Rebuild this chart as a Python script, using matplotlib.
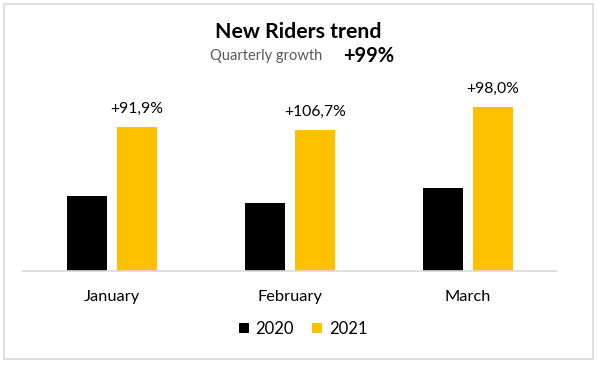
import matplotlib
matplotlib.use("Agg")
import matplotlib.pyplot as plt
from matplotlib.patches import Rectangle
import numpy as np

plt.rcParams['font.family'] = ['Lato', 'DejaVu Sans']

months = ["January", "February", "March"]
series_names = ["2020", "2021"]
values_2020 = [75, 68, 83]
values_2021 = [144, 141, 164]
growth_labels = ["+91,9%", "+106,7%", "+98,0%"]
title = "New Riders trend"
subtitle = "Quarterly growth"
total_growth = "+99%"

W, H = 597, 366
fig = plt.figure(figsize=(W / 100, H / 100), dpi=100)

# border around whole chart
fig.patches.append(Rectangle((4 / W, 1 - 359 / H), 589 / W, 355 / H,
                             transform=fig.transFigure, fill=False,
                             edgecolor="#D9D9D9", linewidth=1.2))

ax_left, ax_right = 23, 557
ax_bottom, ax_top = 271, 80
ax = fig.add_axes([ax_left / W, 1 - ax_bottom / H, (ax_right - ax_left) / W,
                   (ax_bottom - ax_top) / H])

x = np.arange(len(months))
bw = 0.223
off = 0.141
ax.bar(x - off, values_2020, bw, color="#000000", label=series_names[0])
ax.bar(x + off, values_2021, bw, color="#FFC000", label=series_names[1])

for xi, v, lab in zip(x, values_2021, growth_labels):
    ax.annotate(lab, (xi + off, v), xytext=(0, 13), textcoords="offset points",
                ha="center", va="center", fontsize=11.3, color="#000000")

ax.set_xlim(-0.5, len(months) - 0.5)
ax.set_ylim(0, ax_bottom - ax_top)
ax.set_yticks([])
ax.set_xticks(x)
ax.set_xticklabels(months, fontsize=11.8, color="#000000")
ax.tick_params(axis="x", length=0, pad=14)
for s in ["top", "right", "left"]:
    ax.spines[s].set_visible(False)
ax.spines["bottom"].set_color("#D9D9D9")
ax.spines["bottom"].set_linewidth(1.2)
ax.patch.set_alpha(0)

fig.text(298 / W, 1 - 32 / H, title, ha="center", va="center",
         fontsize=15.3, fontweight="bold", color="#000000")
fig.text(266 / W, 1 - 56 / H, subtitle, ha="center", va="center",
         fontsize=10.5, color="#595959")
fig.text(369 / W, 1 - 56 / H, total_growth, ha="center", va="center",
         fontsize=14.5, fontweight="bold", color="#000000")

fig.legend(loc="center", bbox_to_anchor=(303 / W, 1 - 329 / H), ncol=2,
           frameon=False, fontsize=12, handlelength=0.6, handleheight=0.6,
           handletextpad=0.4, columnspacing=1.1)

fig.savefig("out.png", dpi=100)
